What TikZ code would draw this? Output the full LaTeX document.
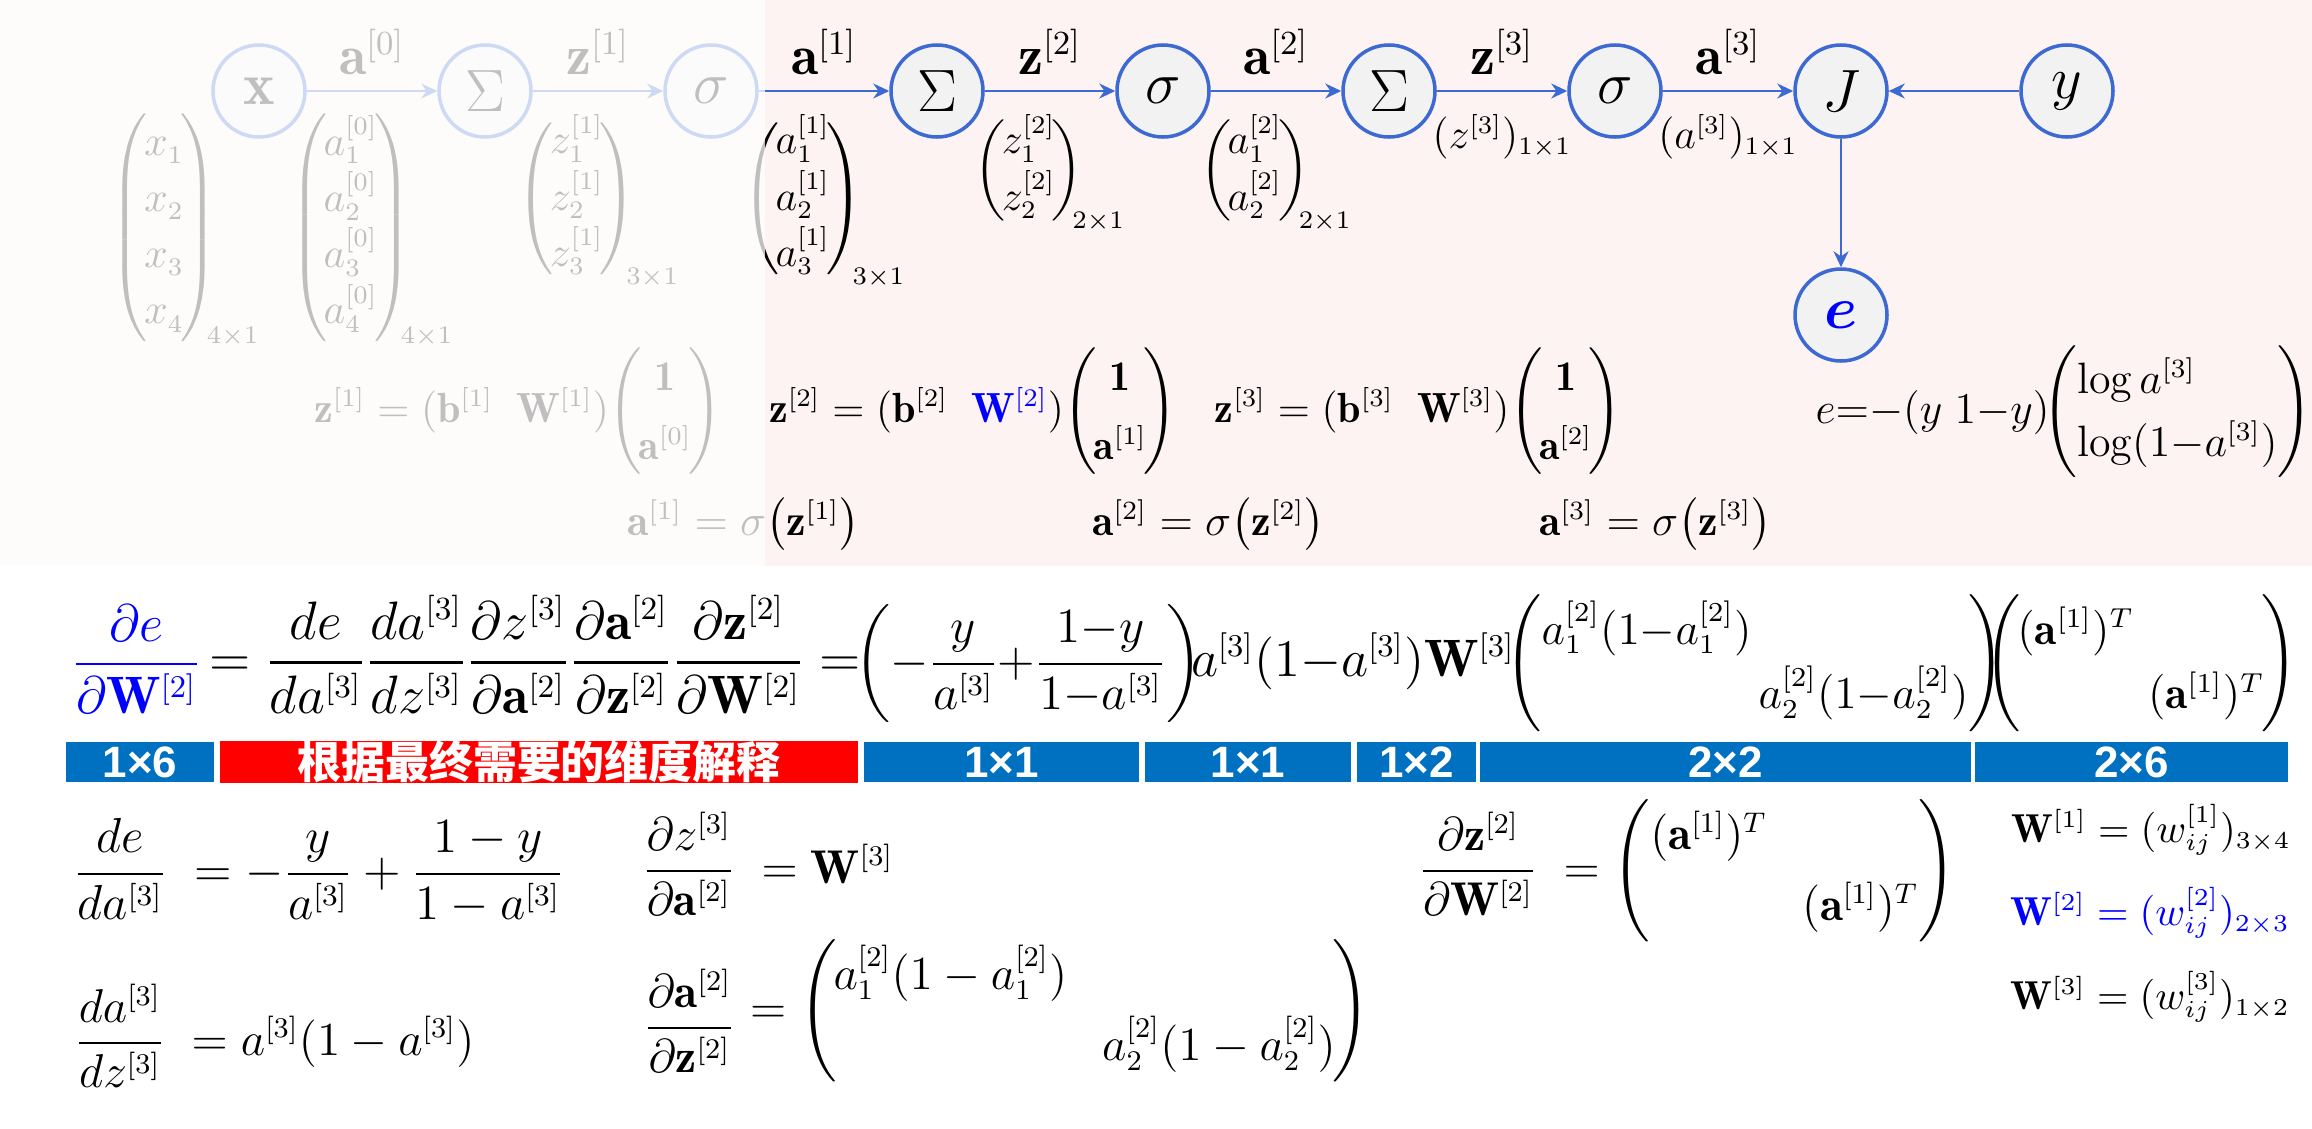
\RequirePackage{fix-cm}
\documentclass[tikz,border=0pt]{standalone}
\usepackage{amsmath,amssymb,bm}
\usepackage{fontspec}
\newfontfamily\cjkfont{Noto Sans CJK SC}
\newfontfamily\dimfont{Liberation Sans}
\usetikzlibrary{calc,positioning,arrows.meta}

\DeclareMathSizes{11.5}{11.5}{6.9}{5}
\DeclareMathSizes{12}{12}{7.2}{5.5}
\DeclareMathSizes{12.5}{12.5}{7.5}{5.5}
\DeclareMathSizes{13}{13}{7.8}{6}
\DeclareMathSizes{13.5}{13.5}{8.1}{6}
\DeclareMathSizes{14}{14}{8.4}{6}
\DeclareMathSizes{15}{15}{9}{6.5}
\DeclareMathSizes{15.4}{15.4}{9.2}{6.6}
\DeclareMathSizes{16}{16}{9.6}{7}

% tight parentheses round a matrix
\newcommand{\pmat}[1]{\left(\kern-1pt\begin{matrix}#1\end{matrix}\kern-1pt\right)}

\definecolor{nodeblue}{RGB}{60,105,210}
\definecolor{nodefill}{RGB}{242,242,242}
\definecolor{bandpink}{RGB}{254,243,243}
\definecolor{barblue}{RGB}{0,112,192}
\definecolor{barred}{RGB}{255,0,0}
\definecolor{wblue}{RGB}{0,0,255}

\begin{document}
\begin{tikzpicture}[
    op/.style={circle, draw=nodeblue, fill=nodefill, line width=1pt, minimum size=0.92cm, inner sep=0pt, font=\fontsize{17}{20}\selectfont},
    flow/.style={draw=nodeblue, line width=0.6pt, -{Stealth[length=1.6mm,width=1.5mm]}},
    sig/.style={above=0.15cm, inner sep=0pt, font=\fontsize{16}{19}\selectfont},
    vec/.style={below=0.22cm, inner sep=0pt, font=\fontsize{12}{15.5}\selectfont},
    eq/.style={anchor=base, inner sep=0pt, font=\fontsize{12.5}{15}\selectfont},
    zeq/.style={eq, font=\fontsize{12}{15}\selectfont},
    bigeq/.style={anchor=base, inner sep=0pt, font=\fontsize{15.4}{18}\selectfont},
    mateq/.style={anchor=base, inner sep=0pt, font=\fontsize{13}{16}\selectfont},
    soleq/.style={anchor=base, inner sep=0pt, font=\fontsize{13.5}{16.2}\selectfont},
    weq/.style={anchor=base, inner sep=0pt, font=\fontsize{11.5}{14}\selectfont},
    dimbar/.style={fill=barblue, text=white, minimum height=0.4cm, inner sep=0pt, font=\dimfont\bfseries\fontsize{12.5}{14}\selectfont},
    fadebox/.style={fill=white, opacity=0.75}
]
\useasboundingbox (0,0) rectangle (23.12,-11.28);
\fill[bandpink] (0,0) rectangle (23.12,-5.66);

% forward graph
\node[op] (xin) at (2.59,-0.91) {$\mathbf{x}$};
\node[op] (sum1) at (4.85,-0.91) {$\Sigma$};
\node[op] (act1) at (7.11,-0.91) {$\sigma$};
\node[op] (sum2) at (9.37,-0.91) {$\Sigma$};
\node[op] (act2) at (11.63,-0.91) {$\sigma$};
\node[op] (sum3) at (13.89,-0.91) {$\Sigma$};
\node[op] (act3) at (16.15,-0.91) {$\sigma$};
\node[op] (cost) at (18.41,-0.91) {$J$};
\node[op] (target) at (20.67,-0.91) {$y$};
\node[op, text=wblue] (err) at (18.41,-3.15) {$\bm{e}$};

\node[vec] (xvec) at (1.855,-0.91) {$\pmat{x^{\vphantom{[0]}}_1\\ x^{\vphantom{[0]}}_2\\ x^{\vphantom{[0]}}_3\\ x^{\vphantom{[0]}}_4}_{\kern-3pt4\times1}$};

\draw[flow] (xin) -- node[sig] {$\mathbf{a}^{[0]}$}
  node[vec] {$\pmat{a^{[0]}_1\\ a^{[0]}_2\\ a^{[0]}_3\\ a^{[0]}_4}_{\kern-3pt4\times1}$} (sum1);
\draw[flow] (sum1) -- node[sig] {$\mathbf{z}^{[1]}$}
  node[vec] {$\pmat{z^{[1]}_1\\ z^{[1]}_2\\ z^{[1]}_3}_{\kern-3pt3\times1}$} (act1);
\draw[flow] (act1) -- node[sig] {$\mathbf{a}^{[1]}$}
  node[vec] {$\pmat{a^{[1]}_1\\ a^{[1]}_2\\ a^{[1]}_3}_{\kern-3pt3\times1}$} (sum2);
\draw[flow] (sum2) -- node[sig] {$\mathbf{z}^{[2]}$}
  node[vec] {$\pmat{z^{[2]}_1\\ z^{[2]}_2}_{\kern-3pt2\times1}$} (act2);
\draw[flow] (act2) -- node[sig] {$\mathbf{a}^{[2]}$}
  node[vec] {$\pmat{a^{[2]}_1\\ a^{[2]}_2}_{\kern-3pt2\times1}$} (sum3);
\draw[flow] (sum3) -- node[sig] {$\mathbf{z}^{[3]}$}
  node[vec] {$(z^{[3]})_{1\times1}$} (act3);
\draw[flow] (act3) -- node[sig] {$\mathbf{a}^{[3]}$}
  node[vec] {$(a^{[3]})_{1\times1}$} (cost);
\draw[flow] (target) -- (cost);
\draw[flow] (cost) -- (err);

% layer equations
\node[zeq] (zdef1) at (5.18,-4.22) {$\mathbf{z}^{[1]}=(\mathbf{b}^{[1]}\;\;\mathbf{W}^{[1]})\!\def\arraystretch{1.3}\pmat{\mathbf{1}\\ \mathbf{a}^{[0]}}$};
\node[zeq] (zdef2) at (9.73,-4.22) {$\mathbf{z}^{[2]}=(\mathbf{b}^{[2]}\;\;{\color{wblue}\mathbf{W}^{[2]}})\!\def\arraystretch{1.3}\pmat{\mathbf{1}\\ \mathbf{a}^{[1]}}$};
\node[zeq] (zdef3) at (14.185,-4.22) {$\mathbf{z}^{[3]}=(\mathbf{b}^{[3]}\;\;\mathbf{W}^{[3]})\!\def\arraystretch{1.3}\pmat{\mathbf{1}\\ \mathbf{a}^{[2]}}$};
\node[eq] (edef) at (20.64,-4.23) {$e{=}{-}(y\;1{-}y)\!\!\def\arraystretch{1.2}\left(\begin{array}{@{}l@{}}\log a^{[3]}\\ \log(1{-}a^{[3]})\end{array}\right)$};
\node[eq] (adef1) at (7.435,-5.35) {$\mathbf{a}^{[1]}=\sigma\bigl(\mathbf{z}^{[1]}\bigr)$};
\node[eq] (adef2) at (12.085,-5.35) {$\mathbf{a}^{[2]}=\sigma\bigl(\mathbf{z}^{[2]}\bigr)$};
\node[eq] (adef3) at (16.555,-5.35) {$\mathbf{a}^{[3]}=\sigma\bigl(\mathbf{z}^{[3]}\bigr)$};

\fill[fadebox] (0,0) rectangle (7.65,-5.66);

% chain rule
\node[bigeq, text=wblue, font=\fontsize{15}{18}\selectfont] (dEdW) at (1.365,-6.77) {$\dfrac{\partial e}{\partial\mathbf{W}^{[2]}}$};
\node[bigeq] (chain) at (5.35,-6.76) {$=\dfrac{de}{da^{[3]}}\dfrac{da^{[3]}}{dz^{[3]}}\dfrac{\partial z^{[3]}}{\partial\mathbf{a}^{[2]}}\dfrac{\partial\mathbf{a}^{[2]}}{\partial\mathbf{z}^{[2]}}\dfrac{\partial\mathbf{z}^{[2]}}{\partial\mathbf{W}^{[2]}}=$};
\node[bigeq, font=\fontsize{14}{17}\selectfont] (gradA) at (10.285,-6.76) {$\left({-}\dfrac{y}{a^{[3]}}{+}\dfrac{1{-}y}{1{-}a^{[3]}}\right)$};
\node[bigeq, font=\fontsize{15}{18}\selectfont] (gradZ) at (13.53,-6.76) {$a^{[3]}(1{-}a^{[3]})\mathbf{W}^{[3]}$};
\node[mateq] (gradS) at (17.55,-6.75) {$\arraycolsep=1pt\def\arraystretch{1.15}\begin{pmatrix}a^{[2]}_1(1{-}a^{[2]}_1) & \\ & a^{[2]}_2(1{-}a^{[2]}_2)\end{pmatrix}$};
\node[mateq] (gradW) at (21.41,-6.75) {$\arraycolsep=2pt\def\arraystretch{1.15}\pmat{(\mathbf{a}^{[1]})^T & \\ & (\mathbf{a}^{[1]})^T}$};

% dimensions
\node[dimbar, minimum width=1.48cm] (dim1) at (1.40,-7.62) {1×6};
\node[dimbar, fill=barred, minimum width=6.38cm] (dimNote) at (5.39,-7.62) {\cjkfont\bfseries 根据最终需要的维度解释};
\node[dimbar, minimum width=2.75cm] (dim2) at (10.015,-7.62) {1×1};
\node[dimbar, minimum width=2.06cm] (dim3) at (12.48,-7.62) {1×1};
\node[dimbar, minimum width=1.19cm] (dim4) at (14.165,-7.62) {1×2};
\node[dimbar, minimum width=4.91cm] (dim5) at (17.255,-7.62) {2×2};
\node[dimbar, minimum width=3.13cm] (dim6) at (21.315,-7.62) {2×6};

% factors
\node[soleq, font=\fontsize{14}{17}\selectfont] (dEda) at (3.19,-8.86) {$\dfrac{de}{da^{[3]}}\;=-\dfrac{y}{a^{[3]}}+\dfrac{1-y}{1-a^{[3]}}$};
\node[soleq] (dzda) at (7.68,-8.83) {$\dfrac{\partial z^{[3]}}{\partial\mathbf{a}^{[2]}}\;=\mathbf{W}^{[3]}$};
\node[soleq] (dadz) at (2.745,-10.55) {$\dfrac{da^{[3]}}{dz^{[3]}}\;=a^{[3]}(1-a^{[3]})$};
\node[soleq] (dAdZ) at (6.895,-10.40) {$\dfrac{\partial\mathbf{a}^{[2]}}{\partial\mathbf{z}^{[2]}}$};
\node[soleq] (dAdZval) at (10.60,-10.23) {$=\def\arraystretch{1.25}\pmat{a^{[2]}_1(1-a^{[2]}_1) & \\ & a^{[2]}_2(1-a^{[2]}_2)}$};
\node[soleq] (dZdW) at (16.875,-8.83) {$\dfrac{\partial\mathbf{z}^{[2]}}{\partial\mathbf{W}^{[2]}}\;=\def\arraystretch{1.25}\begin{pmatrix}(\mathbf{a}^{[1]})^T & \\ & (\mathbf{a}^{[1]})^T\end{pmatrix}$};
\node[weq] (W1) at (21.51,-8.42) {$\mathbf{W}^{[1]}=(w^{[1]}_{ij})_{3\times4}$};
\node[weq, text=wblue] (W2) at (21.50,-9.25) {$\mathbf{W}^{[2]}=(w^{[2]}_{ij})_{2\times3}$};
\node[weq] (W3) at (21.50,-10.09) {$\mathbf{W}^{[3]}=(w^{[3]}_{ij})_{1\times2}$};
\end{tikzpicture}
\end{document}
